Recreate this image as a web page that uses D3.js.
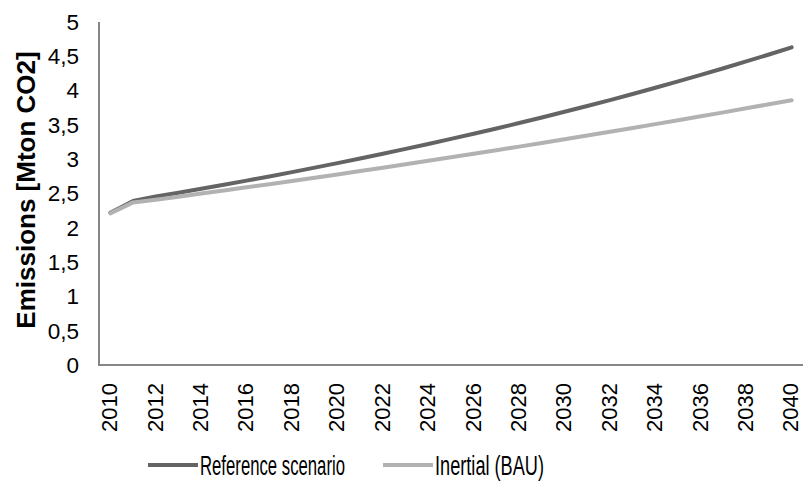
<!DOCTYPE html>
<html><head><meta charset="utf-8">
<script src="https://cdn.jsdelivr.net/npm/d3@7"></script>
<style>body{margin:0;background:#fff}svg{display:block}</style>
</head><body>
<svg id="c" width="803" height="482"></svg>
<script>
const years = d3.range(2010, 2041);
const referenceScenario = [2.22,2.39,2.455,2.511,2.569,2.628,2.688,2.749,2.812,2.877,2.943,3.010,3.079,3.150,3.222,3.296,3.371,3.448,3.527,3.608,3.691,3.776,3.862,3.951,4.041,4.134,4.229,4.326,4.425,4.526,4.630];
const inertialBAU = [2.21,2.37,2.410,2.454,2.499,2.544,2.590,2.636,2.683,2.730,2.778,2.827,2.876,2.926,2.976,3.027,3.079,3.131,3.183,3.237,3.290,3.345,3.400,3.455,3.511,3.568,3.625,3.683,3.742,3.801,3.860];
const yTicks = [0,0.5,1,1.5,2,2.5,3,3.5,4,4.5,5];
const xTickYears = years.filter(y => y % 2 === 0);
const seriesNames = ["Reference scenario","Inertial (BAU)"];
const colors = ["#646464","#b2b2b2"];

const svg = d3.select("#c");
const x = d3.scalePoint().domain(years).range([99,803]).padding(0.5);
const y = d3.scaleLinear().domain([0,5]).range([365,22]);
const fmt = v => String(v).replace(".", ",");
const FF = "'Liberation Sans',Arial,sans-serif";

// y tick labels
svg.append("g").selectAll("text").data(yTicks).join("text")
  .attr("x", 79).attr("y", d => y(d)).attr("dy","0.35em")
  .attr("text-anchor","end")
  .style("font-family",FF).style("font-size","22.5px").attr("fill","#000")
  .text(fmt);

// x tick labels
svg.append("g").selectAll("text").data(xTickYears).join("text")
  .attr("transform", d => `translate(${x(d)},383) rotate(-90)`)
  .attr("dy","0.31em").attr("text-anchor","end")
  .style("font-family",FF).style("font-size","22px").attr("fill","#000")
  .text(d => d);

// axes lines
svg.append("line").attr("x1",99).attr("x2",99).attr("y1",y(5)).attr("y2",y(0)+1).attr("stroke","#868686").attr("stroke-width",2);
svg.append("line").attr("x1",98).attr("x2",803).attr("y1",y(0)).attr("y2",y(0)).attr("stroke","#868686").attr("stroke-width",2);

// y title
svg.append("text").attr("transform","translate(26,190) rotate(-90)")
  .attr("text-anchor","middle").attr("dy","0.35em")
  .style("font-family",FF).style("font-size","26px").style("font-weight","bold")
  .text("Emissions [Mton CO2]");

// lines
const line = d3.line().x((d,i) => x(years[i])).y(d => y(d));
[referenceScenario, inertialBAU].forEach((s,i) => {
  svg.append("path").datum(s).attr("d", line).attr("fill","none")
    .attr("stroke", colors[i]).attr("stroke-width",4).attr("stroke-linecap","round").attr("stroke-linejoin","round");
});

// legend
const legendX = [148, 383];
const legendW = [145, 109];
seriesNames.forEach((n,i) => {
  svg.append("line").attr("x1",legendX[i]).attr("x2",legendX[i]+50).attr("y1",465).attr("y2",465)
    .attr("stroke",colors[i]).attr("stroke-width",4);
  svg.append("text").attr("x",legendX[i]+52).attr("y",465).attr("dy","0.36em")
    .attr("textLength", legendW[i]).attr("lengthAdjust","spacingAndGlyphs")
    .style("font-family",FF).style("font-size","27px")
    .text(n);
});
</script>
</body></html>
